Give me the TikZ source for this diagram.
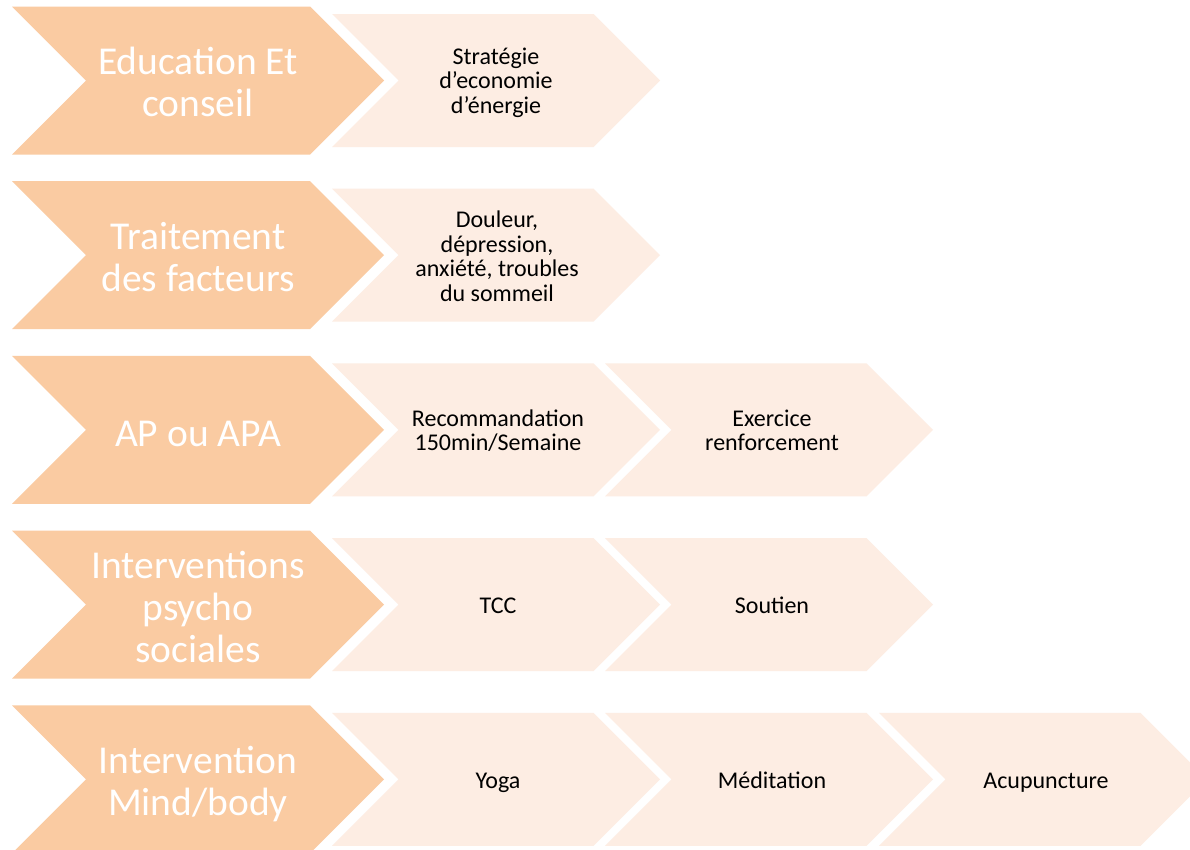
\documentclass[tikz,border=0pt]{standalone}
\usepackage{fontspec}
\setmainfont{Carlito}
\definecolor{headfill}{HTML}{FACBA2}
\definecolor{itemfill}{HTML}{FDEDE3}
\tikzset{
  headtext/.style={text=white, align=center, font=\fontsize{39.5}{42}\selectfont, inner sep=0pt,
    execute at begin node=\strut, execute at end node=\strut},
  itemtext/.style={text=black, align=center, font=\fontsize{24}{24.5}\selectfont, inner sep=0pt,
    execute at begin node=\strut, execute at end node=\strut},
}
% chevron: left x, centre y, total width, height (tip depth = height/2), colour
\newcommand{\chevron}[5]{%
  \pgfmathsetmacro{\cd}{#4/2}%
  \fill[#5] (#1,#2-#4/2) -- (#1+#3-\cd,#2-#4/2) -- (#1+#3,#2) -- (#1+#3-\cd,#2+#4/2)
    -- (#1,#2+#4/2) -- (#1+\cd,#2) -- cycle;}
\begin{document}
\begin{tikzpicture}[x=1pt,y=-1pt]
  \useasboundingbox[fill=white] (0,0) rectangle (1190,849);
  \begin{scope}
  \clip (0,0) rectangle (1190,849);
  % row centres
  \foreach \r/\yc in {1/80.5,2/255.2,3/429.9,4/604.6,5/779.3}{
    \chevron{12}{\yc}{372}{148}{headfill}
  }
  \chevron{332}{80.5}{328}{133}{itemfill}
  \chevron{332}{255.2}{328}{133}{itemfill}
  \chevron{332}{429.9}{328}{133}{itemfill}
  \chevron{605}{429.9}{328}{133}{itemfill}
  \chevron{332}{604.6}{328}{133}{itemfill}
  \chevron{605}{604.6}{328}{133}{itemfill}
  \chevron{332}{779.3}{328}{133}{itemfill}
  \chevron{605}{779.3}{328}{133}{itemfill}
  \chevron{879}{779.3}{328}{133}{itemfill}
  \end{scope}

  % category labels
  \node[headtext] (h1) at (198,88) {Education Et\\conseil};
  \node[headtext] (h2) at (198,263) {Traitement\\des facteurs};
  \node[headtext] (h3) at (198,438) {AP ou APA};
  \node[headtext] (h4) at (198,613) {Interventions\\psycho\\sociales};
  \node[headtext] (h5) at (198,787) {Intervention\\Mind/body};

  % measures
  \node[itemtext] (a1) at (496,84) {Stratégie\\d’economie\\d’énergie};
  \node[itemtext] (b1) at (497,260) {Douleur,\\dépression,\\anxiété, troubles\\du sommeil};
  \node[itemtext] (c1) at (498,434) {Recommandation\\150min/Semaine};
  \node[itemtext] (c2) at (772,434) {Exercice\\renforcement};
  \node[itemtext] (d1) at (498,609) {TCC};
  \node[itemtext] (d2) at (772,609) {Soutien};
  \node[itemtext] (e1) at (498,784) {Yoga};
  \node[itemtext] (e2) at (772,784) {Méditation};
  \node[itemtext] (e3) at (1046,784) {Acupuncture};
\end{tikzpicture}
\end{document}
